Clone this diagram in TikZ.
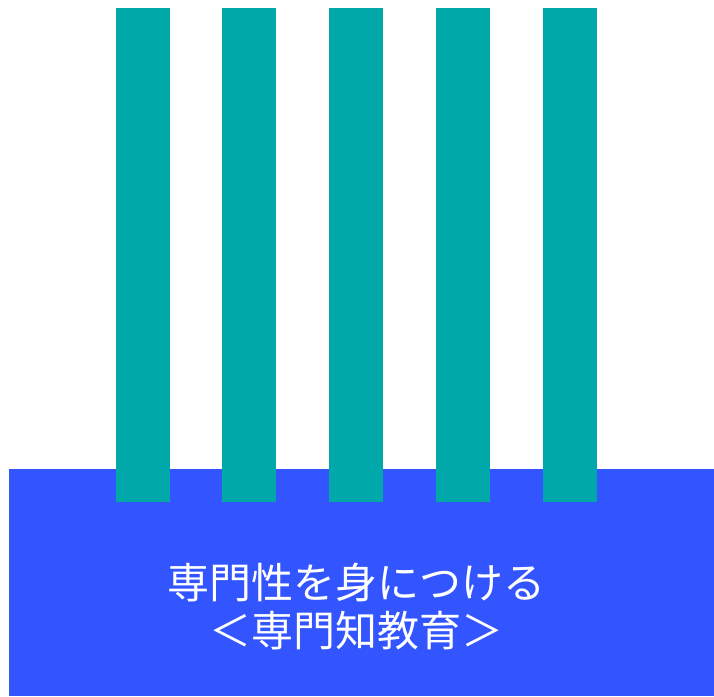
\documentclass[tikz,border=0pt]{standalone}
\usepackage{fontspec}
\newfontfamily\jpfont{Noto Sans CJK JP}
\definecolor{basecol}{RGB}{51,85,255}
\definecolor{pillar}{RGB}{0,168,170}
\begin{document}
\begin{tikzpicture}[x=1pt,y=-1pt,
  basebox/.style={fill=basecol,draw=none},
  pillarbox/.style={fill=pillar,draw=none},
  label/.style={text=white,font=\jpfont\fontsize{42}{48}\selectfont,align=center}]
\useasboundingbox (0,0) rectangle (714,696);
\fill[white] (0,0) rectangle (714,696);
\path[basebox] (9,469) rectangle (714,696);
\foreach \x [count=\i] in {116,222,329,436,543}
  \path[pillarbox] (\x,8) rectangle ++(54,494) coordinate (p\i);
\node[label] (t) at (356,607) {専門性を身につける\\＜専門知教育＞};
\end{tikzpicture}
\end{document}
